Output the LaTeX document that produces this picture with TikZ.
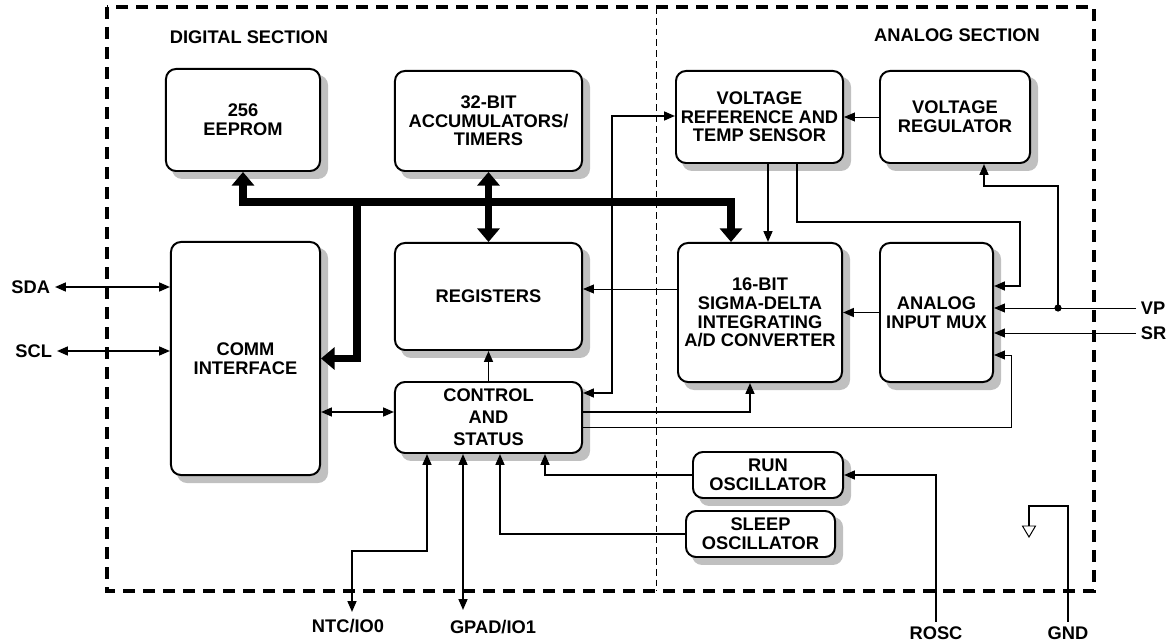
\documentclass[tikz,border=0pt]{standalone}
\usepackage{fontspec}
\setmainfont{Liberation Sans}
\usepackage{tikz}
\usetikzlibrary{arrows.meta, calc, backgrounds}
\definecolor{shadowgray}{RGB}{192,192,192}

\begin{document}
\begin{tikzpicture}[x=0.025cm, y=-0.025cm,
    font=\bfseries\fontsize{13}{13.3}\selectfont,
    >={Triangle[length=0.27cm, width=0.22cm]},
    blk/.style={draw, line width=1.4pt, rounded corners=0.25cm, fill=white, align=center, inner sep=1pt},
    shade/.style={fill=shadowgray, rounded corners=0.25cm},
    bus/.style={line width=5pt, >={Triangle[length=0.34cm, width=0.55cm]}},
    conn/.style={line width=1.3pt},
    wire/.style={line width=0.7pt},
    border/.style={line width=2.2pt, dash pattern=on 0.3cm off 0.2cm},
    divider/.style={line width=0.6pt, dash pattern=on 0.17cm off 0.1cm}]
    \useasboundingbox (0,0) rectangle (1171,642);

    % Sections
    \draw[border] (107,7) rectangle (1094,591);
    \draw[divider] (656,7) -- (656,591);
    \node (dig) at (249,37) {DIGITAL SECTION};
    \node (ana) at (957,35) {ANALOG SECTION};

    % Define nodes
    \node[blk, minimum width=3.85cm, minimum height=2.55cm] (eeprom) at (243,120) {256\\EEPROM};
    \node[blk, minimum width=4.675cm, minimum height=2.5cm] (accum) at (488.5,121) {32-BIT\\ACCUMULATORS/\\TIMERS};
    \node[blk, minimum width=4.175cm, minimum height=2.3cm] (vref) at (759.5,117) {VOLTAGE\\REFERENCE AND\\TEMP SENSOR};
    \node[blk, minimum width=3.75cm, minimum height=2.3cm] (vreg) at (955,117) {VOLTAGE\\REGULATOR};

    \node[blk, minimum width=3.725cm, minimum height=5.825cm] (comm) at (245.5,358.5) {COMM\\INTERFACE};
    \node[blk, minimum width=4.675cm, minimum height=2.675cm] (regs) at (488.5,296.5) {REGISTERS};
    \node[blk, minimum width=4.1cm, minimum height=3.475cm] (adc) at (760,312.5) {16-BIT\\SIGMA-DELTA\\INTEGRATING\\A/D CONVERTER};
    \node[blk, minimum width=2.825cm, minimum height=3.475cm] (mux) at (936.5,312.5) {ANALOG\\INPUT MUX};

    \node[blk, minimum width=4.675cm, minimum height=1.775cm, font=\bfseries\fontsize{13}{15.6}\selectfont] (ctrl) at (488.5,417.5) {CONTROL\\AND\\STATUS};
    \node[blk, minimum width=3.75cm, minimum height=1.15cm] (runosc) at (768,475) {RUN\\OSCILLATOR};
    \node[blk, minimum width=3.725cm, minimum height=1.15cm] (sleeposc) at (760.5,534) {SLEEP\\OSCILLATOR};

    % Shadows
    \begin{scope}[on background layer]
        \foreach \b in {eeprom,accum,vref,vreg,comm,regs,adc,mux,ctrl,runosc,sleeposc}
            \fill[shade] ($(\b.south west)+(7,7)$) rectangle ($(\b.north east)+(7,7)$);
    \end{scope}

    % Pins
    \node[anchor=east] (sda) at (55,287) {SDA};
    \node[anchor=east] (scl) at (57,351) {SCL};
    \node[anchor=west] (vp) at (1136,308) {VP};
    \node[anchor=west] (sr) at (1136,333) {SR};
    \node (ntc) at (348,626) {NTC/IO0};
    \node (gpad) at (493,627) {GPAD/IO1};
    \node (rosc) at (936,633) {ROSC};
    \node (gnd) at (1068,633) {GND};

    \coordinate (busj) at (357,203);
    \coordinate (vpj) at (1058,308);
    \coordinate (gpadpin) at (463,610);
    \coordinate (ntcpin) at (352,612);
    \coordinate (gndsym) at (1029,526);

    % Draw bus
    \draw[bus,<->] (eeprom.south) |- ($(adc.north)+(-29,-40)$) -- ($(adc.north)+(-29,0)$);
    \draw[bus,->] (busj) |- (comm.east);
    \draw[bus,<->] (accum) -- (regs);

    % Draw edges
    \draw[conn,<->] (sda) -- (comm.west |- sda);
    \draw[conn,<->] (scl) -- (comm.west |- scl);
    \draw[conn,<->] (comm.east |- 0,412) -- (ctrl.west |- 0,412);
    \draw[wire,->] (adc.west |- 0,289) -- (regs.east |- 0,289);
    \draw[conn,->] (ctrl) -- (regs);

    \draw[conn,<->] (ctrl.east |- 0,393) -- (612,393) |- (vref.west |- 0,116);
    \draw[conn,->] (ctrl.east |- 0,412) -| (adc.south -| 750,0);
    \draw[wire,->] (ctrl.east |- 0,427) -| (1011,355) -- (mux.east |- 0,355);

    \draw[wire,->] (vreg) -- (vref);
    \draw[conn,->] (vref.south -| 768,0) -- (adc.north -| 768,0);
    \draw[conn,->] (vref.south -| 797,0) |- (1020,222) |- (mux.east |- 0,286);
    \draw[conn,->] (adc.west -| mux.west) -- (adc.east);

    \draw[wire,->] (vp) -- (mux.east |- vp);
    \draw[wire,->] (sr) -- (mux.east |- sr);
    \fill (vpj) circle (0.09cm);
    \draw[conn,->] (vpj) |- (984,186) -- (vreg.south -| 984,0);

    \draw[conn,->] (rosc) |- (runosc);
    \draw[conn,->] (runosc) -| (ctrl.south -| 545,0);
    \draw[conn,->] (sleeposc) -| (ctrl.south -| 500,0);
    \draw[conn,<->] (ctrl.south -| gpadpin) -- (gpadpin);
    \draw[conn,<->] (ctrl.south -| 427,0) -- (427,551) -| (ntcpin);

    % Ground
    \draw[conn] (gnd) |- (gndsym |- 0,506) -- (gndsym);
    \draw[wire] ($(gndsym)+(-6.5,0)$) -- ($(gndsym)+(6.5,0)$) -- ($(gndsym)+(0,11)$) -- cycle;
\end{tikzpicture}
\end{document}
